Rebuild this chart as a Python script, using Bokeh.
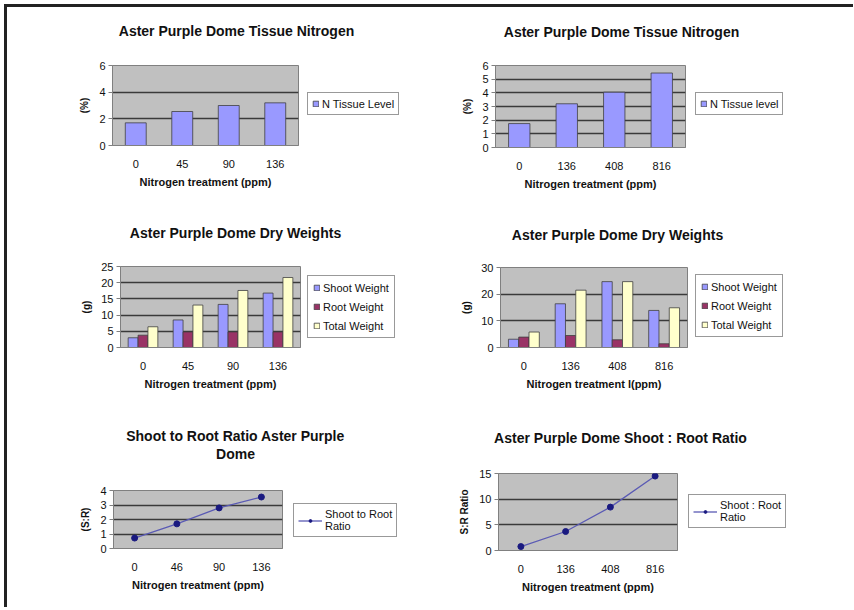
from bokeh.plotting import figure
from bokeh.layouts import row, column
from bokeh.models import ColumnDataSource, FactorRange, FixedTicker, Legend, LegendItem, Label
from bokeh.transform import dodge
from bokeh.embed import file_html
from bokeh.resources import INLINE

FONT = "Liberation Sans"

# ---------------- data ----------------
n_low = ["0", "45", "90", "136"]
n_high = ["0", "136", "408", "816"]
n_low_ratio = ["0", "46", "90", "136"]

tissue_low = [1.7, 2.55, 3.0, 3.2]
tissue_high = [1.75, 3.2, 4.05, 5.45]

shoot_low = [3.0, 8.5, 13.3, 16.8]
root_low = [3.8, 4.8, 4.8, 4.8]
total_low = [6.4, 13.1, 17.6, 21.6]

shoot_high = [3.1, 16.4, 24.7, 13.9]
root_high = [3.9, 4.5, 2.9, 1.4]
total_high = [5.8, 21.5, 24.7, 14.9]

ratio_low = [0.72, 1.7, 2.8, 3.55]
ratio_high = [0.77, 3.7, 8.45, 14.5]

C_SHOOT = "#9999ff"
C_ROOT = "#993366"
C_TOTAL = "#ffffcc"
C_EDGE = "#404040"
C_LINE = "#5a5ab4"
C_MARK = "#1a1a80"

TOTAL_W = 846


def base(w, h, xr, yr):
    p = figure(x_range=xr, y_range=yr, width=w, height=h, min_border=0,
               x_axis_location=None, y_axis_location=None,
               output_backend="svg", toolbar_location=None, tools="")
    p.outline_line_color = None
    p.background_fill_color = "white"
    p.border_fill_color = "white"
    p.grid.visible = False
    return p


def title_fig(h, labels):
    p = base(TOTAL_W, h, (0, TOTAL_W), (0, h))
    for txt, x, y in labels:
        p.add_layout(Label(x=x, y=y, text=txt, text_align="center", text_baseline="middle",
                           text_font=FONT, text_font_size="14px", text_font_style="bold",
                           text_color="#111111"))
    return p


def make_fig(cats, left, fw, top, fh, h, ymax, yticks, xlabel, ylabel):
    w = left + fw + 1
    bottom = h - top - fh
    p = figure(x_range=FactorRange(factors=cats, range_padding=0), y_range=(0, ymax),
               width=w, height=h, min_border_left=left, min_border_right=1,
               min_border_top=top, min_border_bottom=bottom,
               output_backend="svg", toolbar_location=None, tools="")
    p.background_fill_color = "#c0c0c0"
    p.border_fill_color = "white"
    p.outline_line_color = "#808080"
    p.outline_line_width = 1
    xa = p.xaxis[0]
    xa.major_tick_line_color = None
    xa.minor_tick_line_color = None
    xa.axis_line_color = "#808080"
    xa.major_label_text_font = FONT
    xa.major_label_text_font_size = "11px"
    xa.major_label_text_color = "#111111"
    xa.major_label_standoff = 8
    xa.axis_label = xlabel
    xa.axis_label_text_font = FONT
    xa.axis_label_text_font_size = "11px"
    xa.axis_label_text_font_style = "bold"
    xa.axis_label_text_color = "#111111"
    xa.axis_label_standoff = 5
    ya = p.yaxis[0]
    ya.ticker = FixedTicker(ticks=yticks)
    ya.major_tick_out = 4
    ya.major_tick_in = 0
    ya.minor_tick_line_color = None
    ya.major_tick_line_color = "#808080"
    ya.axis_line_color = "#808080"
    ya.major_label_text_font = FONT
    ya.major_label_text_font_size = "11px"
    ya.major_label_text_color = "#111111"
    ya.major_label_standoff = 3
    ya.axis_label = ylabel
    ya.axis_label_text_font = FONT
    ya.axis_label_text_font_size = "10px"
    ya.axis_label_text_font_style = "bold"
    ya.axis_label_text_color = "#111111"
    ya.axis_label_standoff = 6
    p.xgrid.grid_line_color = None
    p.ygrid.ticker = FixedTicker(ticks=yticks)
    p.ygrid.grid_line_color = "#3a3a3a"
    p.ygrid.grid_line_width = 1.3
    return p


def legend_fig(cats, w, h):
    # legend-only panel; its glyph renderers are muted (invisible) and exist only for the key
    return base(w, h, FactorRange(factors=cats, range_padding=0), (-2, -1))


def add_legend(p, items, loc, glyph_w=7, spacing=4, padding=4):
    leg = Legend(items=items, location=loc, border_line_color="#333333", border_line_width=1,
                 background_fill_color="white", background_fill_alpha=1.0,
                 label_text_font=FONT, label_text_font_size="11px", label_text_color="#111111",
                 glyph_width=glyph_w, glyph_height=7, label_height=13, label_standoff=3,
                 padding=padding, spacing=spacing, margin=0)
    p.add_layout(leg)


def bars(p, src, field, color, width=0.45, off=None, key=False):
    x = "cat" if off is None else dodge("cat", off, range=p.x_range)
    r = p.vbar(x=x, top=field, width=width, source=src, fill_color=color,
               line_color=C_EDGE, line_width=0.8, muted_alpha=0)
    if key:
        r.muted = True
    return r


def ratio_line(p, src, key=False):
    l = p.line(x="cat", y="val", source=src, line_color=C_LINE, line_width=1.3, muted_alpha=0)
    m = p.scatter(x="cat", y="val", source=src, marker="circle", size=6,
                  fill_color=C_MARK, line_color=C_MARK, muted_alpha=0)
    if key:
        l.muted = True
        m.muted = True
    return l, m


def cell(main, leg):
    return [column(main), column(leg)]


# ================= row 1 =================
H1 = 160
s1 = ColumnDataSource(dict(cat=n_low, val=tissue_low))
p1 = make_fig(n_low, 105, 186, 18, 80, H1, 6, [0, 2, 4, 6], "Nitrogen treatment (ppm)", "(%)")
bars(p1, s1, "val", C_SHOOT)
q1 = legend_fig(n_low, 420 - p1.width, H1)
g1 = bars(q1, s1, "val", C_SHOOT, key=True)
add_legend(q1, [LegendItem(label="N Tissue Level", renderers=[g1])], (8, 92))

s2 = ColumnDataSource(dict(cat=n_high, val=tissue_high))
p2 = make_fig(n_high, 68, 190, 18, 82, H1, 6, [0, 1, 2, 3, 4, 5, 6], "Nitrogen treatment (ppm)", "(%)")
bars(p2, s2, "val", C_SHOOT)
q2 = legend_fig(n_high, 426 - p2.width, H1)
g2 = bars(q2, s2, "val", C_SHOOT, key=True)
add_legend(q2, [LegendItem(label="N Tissue level", renderers=[g2])], (9, 92))

t1 = title_fig(40, [("Aster Purple Dome Tissue Nitrogen", 229, 17),
                    ("Aster Purple Dome Tissue Nitrogen", 614, 16)])

# ================= row 2 =================
H2 = 160
s3 = ColumnDataSource(dict(cat=n_low, shoot=shoot_low, root=root_low, total=total_low))
p3 = make_fig(n_low, 113, 180, 19, 81, H2, 25, [0, 5, 10, 15, 20, 25], "Nitrogen treatment (ppm)", "(g)")
bars(p3, s3, "shoot", C_SHOOT, 0.22, -0.22)
bars(p3, s3, "root", C_ROOT, 0.22, 0.0)
bars(p3, s3, "total", C_TOTAL, 0.22, 0.22)
q3 = legend_fig(n_low, 420 - p3.width, H2)
a3 = bars(q3, s3, "shoot", C_SHOOT, 0.22, -0.22, key=True)
b3 = bars(q3, s3, "root", C_ROOT, 0.22, 0.0, key=True)
c3 = bars(q3, s3, "total", C_TOTAL, 0.22, 0.22, key=True)
add_legend(q3, [LegendItem(label="Shoot Weight", renderers=[a3]),
                LegendItem(label="Root Weight", renderers=[b3]),
                LegendItem(label="Total Weight", renderers=[c3])], (6, 69), spacing=6, padding=5)

s4 = ColumnDataSource(dict(cat=n_high, shoot=shoot_high, root=root_high, total=total_high))
p4 = make_fig(n_high, 73, 187, 20, 80, H2, 30, [0, 10, 20, 30], "Nitrogen treatment l(ppm)", "(g)")
bars(p4, s4, "shoot", C_SHOOT, 0.22, -0.22)
bars(p4, s4, "root", C_ROOT, 0.22, 0.0)
bars(p4, s4, "total", C_TOTAL, 0.22, 0.22)
q4 = legend_fig(n_high, 426 - p4.width, H2)
a4 = bars(q4, s4, "shoot", C_SHOOT, 0.22, -0.22, key=True)
b4 = bars(q4, s4, "root", C_ROOT, 0.22, 0.0, key=True)
c4 = bars(q4, s4, "total", C_TOTAL, 0.22, 0.22, key=True)
add_legend(q4, [LegendItem(label="Shoot Weight", renderers=[a4]),
                LegendItem(label="Root Weight", renderers=[b4]),
                LegendItem(label="Total Weight", renderers=[c4])], (7, 70), spacing=6, padding=5)

t2 = title_fig(40, [("Aster Purple Dome Dry Weights", 228, 15),
                    ("Aster Purple Dome Dry Weights", 610, 13)])

# ================= row 3 =================
H3 = 140
s5 = ColumnDataSource(dict(cat=n_low_ratio, val=ratio_low))
p5 = make_fig(n_low_ratio, 106, 169, 23, 58, H3, 4, [0, 1, 2, 3, 4], "Nitrogen treatment (ppm)", "(S:R)")
ratio_line(p5, s5)
q5 = legend_fig(n_low_ratio, 420 - p5.width, H3)
l5, m5 = ratio_line(q5, s5, key=True)
add_legend(q5, [LegendItem(label="Shoot to Root\nRatio", renderers=[l5, m5])], (10, 70), glyph_w=24)

s6 = ColumnDataSource(dict(cat=n_high, val=ratio_high))
p6 = make_fig(n_high, 71, 179, 6, 77, H3, 15, [0, 5, 10, 15], "Nitrogen treatment (ppm)", "S:R Ratio")
ratio_line(p6, s6)
q6 = legend_fig(n_high, 426 - p6.width, H3)
l6, m6 = ratio_line(q6, s6, key=True)
add_legend(q6, [LegendItem(label="Shoot : Root\nRatio", renderers=[l6, m6])], (10, 79), glyph_w=24)

t3 = title_fig(60, [("Shoot to Root Ratio Aster Purple", 228, 32),
                    ("Dome", 228, 14),
                    ("Aster Purple Dome Shoot : Root Ratio", 613, 30)])

block1 = column(column(t1), row(*cell(p1, q1), *cell(p2, q2)))
block2 = column(column(t2), row(*cell(p3, q3), *cell(p4, q4)))
block3 = column(column(t3), row(*cell(p5, q5), *cell(p6, q6)))

layout = column(column(block1), column(block2), column(block3),
                styles={"border-left": "3px solid #222222", "border-top": "3px solid #222222",
                        "margin-left": "4px", "margin-top": "4px"})

open("out.html", "w").write(file_html(layout, INLINE))
